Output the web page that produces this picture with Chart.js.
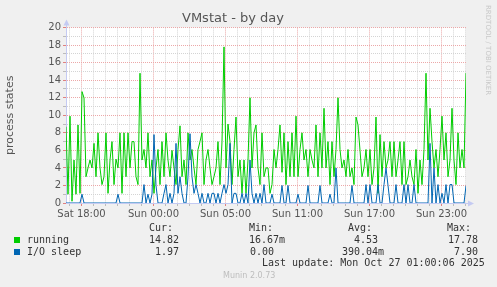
<!DOCTYPE html>
<html><head><meta charset="utf-8">
<script src="https://cdn.jsdelivr.net/npm/chart.js@4/dist/chart.umd.min.js"></script>
<style>
html,body{margin:0;padding:0;background:#F0F0F0;}
#wrap{position:relative;width:497px;height:287px;background:#F0F0F0;overflow:hidden;}
#c{position:absolute;left:0;top:0;}
.t{position:absolute;font-family:'DejaVu Sans Mono',monospace;font-size:10px;color:#333;white-space:pre;line-height:12px;}
.sq{position:absolute;width:6px;height:6px;}
#munin{position:absolute;left:223px;top:271px;font-family:'DejaVu Sans',sans-serif;font-size:8px;line-height:10px;color:#BDBDBD;white-space:pre;}
#rrd{position:absolute;left:483px;top:5px;font-family:'DejaVu Sans',sans-serif;font-size:7px;line-height:9px;color:#C8C8C8;writing-mode:vertical-rl;white-space:pre;}
</style></head>
<body>
<div id="wrap">
<canvas id="c" width="497" height="287"></canvas>
<span class="t" style="left:149px;top:222px">Cur:</span>
<span class="t" style="left:249px;top:222px">Min:</span>
<span class="t" style="left:348px;top:222px">Avg:</span>
<span class="t" style="left:447px;top:222px">Max:</span>
<div class="sq" style="left:14px;top:237px;background:#00CC00"></div>
<span class="t" style="left:27px;top:234px">running</span>
<span class="t" style="left:149px;top:234px">14.82</span>
<span class="t" style="left:249px;top:234px">16.67m</span>
<span class="t" style="left:354px;top:234px">4.53</span>
<span class="t" style="left:448px;top:234px">17.78</span>
<div class="sq" style="left:14px;top:249px;background:#0066B3"></div>
<span class="t" style="left:27px;top:246px">I/O sleep</span>
<span class="t" style="left:155px;top:246px">1.97</span>
<span class="t" style="left:250px;top:246px">0.00</span>
<span class="t" style="left:342px;top:246px">390.04m</span>
<span class="t" style="left:454px;top:246px">7.90</span>
<span class="t" style="left:262px;top:257px">Last update: Mon Oct 27 01:00:06 2025</span>
<span id="munin">Munin 2.0.73</span>
<span id="rrd">RRDTOOL / TOBI OETIKER</span>
</div>
<script>
// ---- data (5-min rrd samples read every 10 minutes) ----
const SERIES_NAMES = ['running', 'I/O sleep'];
const X_START_MIN = 1002.5;   // minutes since Sat 00:00 (elapsed)
const X_STEP_MIN = 10;
const X_TICK_LABELS = ['Sat 18:00','Sun 00:00','Sun 05:00','Sun 11:00','Sun 17:00','Sun 23:00'];
const X_FIRST_LABEL_MIN = 1080;
const X_LABEL_EVERY_MIN = 360;
const Y_MIN = 0, Y_MAX = 20;

const RUNNING = [
 8.7, 1.0, 9.9, 0.2, 4.9, 1.0, 8.9, 1.1, 12.7, 12.0,
 3.0, 4.0, 4.9, 4.0, 6.8, 3.0, 8.0, 4.0, 2.1, 3.0,
 8.0, 1.1, 4.9, 7.0, 2.1, 5.0, 4.0, 8.0, 1.1, 8.0,
 3.0, 8.0, 4.0, 7.0, 7.0, 3.0, 2.1, 14.8, 4.9, 6.1,
 4.0, 8.0, 3.0, 4.9, 1.1, 4.0, 6.1, 2.1, 7.0, 3.0,
 8.0, 4.9, 3.0, 6.0, 4.0, 2.1, 6.1, 8.8, 3.0, 4.9,
 2.1, 8.0, 4.9, 6.1, 4.0, 2.1, 6.1, 7.0, 8.0, 2.1,
 4.9, 6.1, 4.0, 2.1, 3.0, 4.0, 7.0, 2.1, 7.0, 17.8,
 4.0, 9.0, 7.0, 2.1, 6.1, 9.8, 3.0, 4.9, 1.1, 4.9,
 1.1, 4.9, 12.0, 4.0, 8.0, 8.9, 4.0, 2.1, 8.0, 3.0,
 4.0, 4.0, 1.1, 2.1, 6.1, 4.0, 6.1, 8.9, 3.5, 8.0,
 2.1, 7.0, 3.0, 8.0, 3.0, 9.9, 3.0, 6.1, 8.0, 4.9,
 6.1, 3.0, 6.1, 4.9, 4.0, 8.9, 3.0, 8.0, 4.0, 10.8,
 4.0, 7.0, 2.1, 7.0, 3.0, 6.1, 12.0, 6.1, 4.0, 4.9,
 3.0, 6.1, 3.0, 4.0, 2.1, 9.8, 8.9, 6.0, 3.0, 4.0,
 6.1, 3.0, 6.1, 2.1, 4.0, 9.8, 1.1, 7.8, 3.0, 7.0,
 4.0, 4.9, 7.0, 3.0, 7.0, 3.0, 4.9, 7.0, 2.1, 7.0,
 2.1, 3.0, 4.9, 3.0, 2.1, 6.1, 1.1, 4.9, 2.1, 6.1,
 14.8, 4.9, 10.8, 7.0, 4.0, 6.1, 3.0, 6.1, 9.9, 4.9,
 8.0, 3.0, 4.9, 10.8, 4.9, 2.1, 8.0, 4.0, 6.1, 4.0,
 14.82
];
const IO_SLEEP = [
 0, 0, 0, 0, 0, 0, 0, 0, 1.0, 0,
 0, 0, 0, 0, 0, 0, 0, 0, 0, 0,
 0, 0, 0, 0, 0, 0, 1.0, 0, 0, 0,
 0, 0, 0, 0, 0, 0, 0, 0, 0, 2.1,
 0, 1.0, 0, 1.0, 7.8, 2.0, 0, 0, 0, 1.1,
 2.1, 0, 1.1, 0, 1.1, 6.8, 1.1, 3.0, 1.1, 0,
 0, 3.0, 7.9, 3.0, 1.1, 2.1, 1.1, 0, 1.1, 0,
 0, 1.1, 0, 1.1, 1.1, 0, 1.1, 0, 1.1, 2.1,
 1.1, 2.1, 6.8, 0, 1.1, 1.1, 0, 0, 1.1, 0,
 1.1, 0, 4.9, 1.1, 0, 1.1, 0, 1.1, 0, 2.1,
 0, 0, 0, 1.0, 0, 0, 0, 0, 2.0, 0,
 0, 2.0, 0, 0, 0, 0, 1.0, 0, 0, 0,
 0, 2.0, 0, 0, 0, 0, 0, 2.0, 0, 0,
 0, 0, 1.0, 0, 0, 4.0, 0, 0, 0, 0,
 0, 0, 0, 2.0, 0, 0, 0, 0, 0, 0,
 2.1, 0, 2.1, 0, 0, 0, 2.1, 0, 0, 2.1,
 4.0, 2.0, 0, 0, 0, 2.1, 0, 0, 0, 2.1,
 0, 2.1, 0, 0, 2.1, 0, 0, 0, 0, 0,
 0, 0, 6.8, 0, 4.0, 0, 2.1, 0, 1.1, 0,
 2.1, 0, 2.1, 2.1, 0, 0, 0, 0, 0, 0,
 1.97
];

// ---- chart ----
const X_END_MIN = X_START_MIN + (RUNNING.length - 1) * X_STEP_MIN;
const toPoints = arr => arr.map((y, i) => ({x: X_START_MIN + i * X_STEP_MIN, y}));
const MAJOR = 'rgb(236,168,168)';
const MINOR = 'rgb(212,212,212)';
const AXIS = '#C4CAF2';

const plotBg = {id:'plotBg', beforeDraw(chart){
  const {ctx, chartArea:a} = chart;
  ctx.save(); ctx.fillStyle = '#FFFFFF';
  ctx.fillRect(a.left, a.top, a.right - a.left, a.bottom - a.top);
  ctx.restore();
}};
const arrows = {id:'arrows', afterDraw(chart){
  const {ctx, chartArea:a} = chart;
  ctx.save();
  ctx.strokeStyle = AXIS; ctx.lineWidth = 1;
  ctx.beginPath();
  ctx.moveTo(Math.round(a.left) + 0.5, a.top); ctx.lineTo(Math.round(a.left) + 0.5, a.top - 3);
  ctx.moveTo(a.right, Math.round(a.bottom) + 0.5); ctx.lineTo(a.right + 3, Math.round(a.bottom) + 0.5);
  ctx.stroke();
  ctx.fillStyle = AXIS;
  const lx = Math.round(a.left) + 0.5;
  ctx.beginPath(); ctx.moveTo(lx, a.top - 8); ctx.lineTo(lx - 3, a.top - 2); ctx.lineTo(lx + 3, a.top - 2); ctx.closePath(); ctx.fill();
  const by = Math.round(a.bottom) + 0.5;
  ctx.beginPath(); ctx.moveTo(a.right + 8, by); ctx.lineTo(a.right + 2, by - 3); ctx.lineTo(a.right + 2, by + 3); ctx.closePath(); ctx.fill();
  ctx.restore();
}};

const isMajorX = v => Math.abs(((v - X_FIRST_LABEL_MIN) % X_LABEL_EVERY_MIN)) < 0.01;

new Chart(document.getElementById('c'), {
  type: 'line',
  data: {datasets: [
    {label: SERIES_NAMES[0], data: toPoints(RUNNING), borderColor:'#00CC00', backgroundColor:'#00CC00', borderWidth:1, pointRadius:0, tension:0, order:2},
    {label: SERIES_NAMES[1], data: toPoints(IO_SLEEP), borderColor:'#0066B3', backgroundColor:'#0066B3', borderWidth:1, pointRadius:0, tension:0, order:1}
  ]},
  options: {
    responsive:false, animation:false, devicePixelRatio:1,
    layout:{padding:{left:0, right:31, top:0, bottom:0}},
    plugins:{
      legend:{display:false}, tooltip:{enabled:false},
      title:{display:true, text:'VMstat - by day', color:'#555', font:{family:'DejaVu Sans', size:13, weight:'normal'}, padding:{top:11, bottom:1}}
    },
    scales:{
      x:{type:'linear', min:X_START_MIN, max:X_END_MIN,
        afterBuildTicks(s){ const t=[]; for(let v=X_FIRST_LABEL_MIN-60; v<=X_END_MIN; v+=60) if(v>=X_START_MIN) t.push({value:v}); s.ticks=t; },
        afterFit(s){ s.height = 84; },
        ticks:{autoSkip:false, maxRotation:0, minRotation:0, padding:2, color:'#555', font:{family:'DejaVu Sans', size:10},
          callback(v){ const k=Math.round((v-X_FIRST_LABEL_MIN)/X_LABEL_EVERY_MIN); return (isMajorX(v) && k>=0 && k<X_TICK_LABELS.length) ? X_TICK_LABELS[k] : ''; }},
        grid:{drawOnChartArea:true, tickLength:3, lineWidth:1,
          color(c){ return (c.tick && isMajorX(c.tick.value)) ? MAJOR : MINOR; },
          tickColor(c){ return (c.tick && isMajorX(c.tick.value)) ? '#E08080' : '#BBBBBB'; }},
        border:{display:true, color:AXIS, width:1, dash:[1,1]}
      },
      y:{type:'linear', min:Y_MIN, max:Y_MAX,
        afterFit(s){ s.width = 66; },
        ticks:{stepSize:1, autoSkip:false, padding:2, color:'#555', font:{family:'DejaVu Sans', size:10},
          callback(v){ return v%2===0 ? String(v) : ''; }},
        grid:{tickLength:3, lineWidth:1,
          color(c){ return (c.tick && c.tick.value%2===0) ? MAJOR : MINOR; },
          tickColor(c){ return (c.tick && c.tick.value%2===0) ? '#E08080' : '#BBBBBB'; }},
        border:{display:true, color:AXIS, width:1, dash:[1,1]},
        title:{display:true, text:'process states', color:'#555', font:{family:'DejaVu Sans', size:11}, padding:{top:4, bottom:0}}
      }
    }
  },
  plugins:[plotBg, arrows]
});
</script>
</body></html>
